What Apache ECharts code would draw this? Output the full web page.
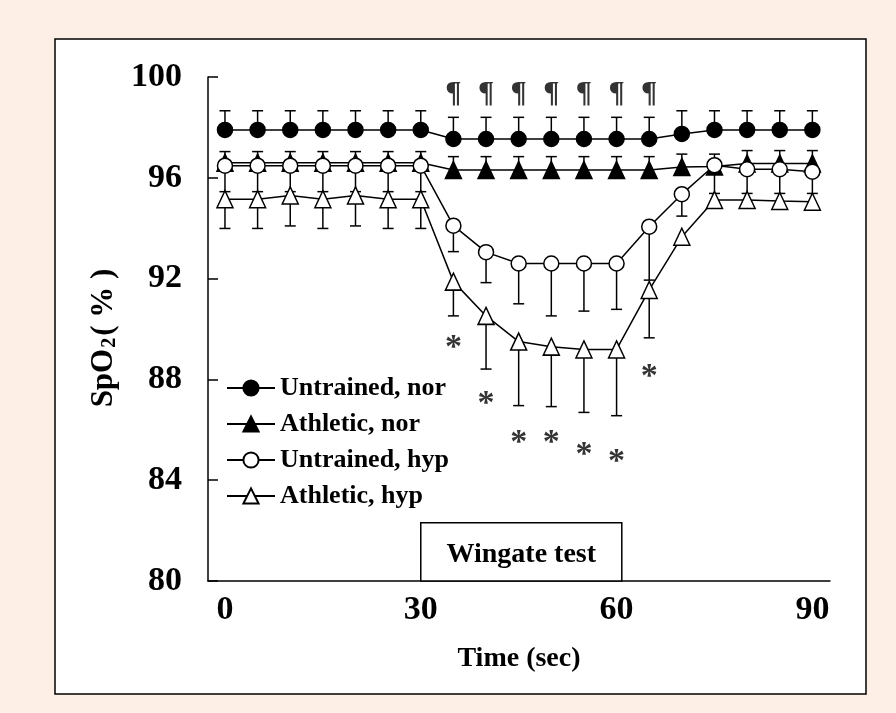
<!DOCTYPE html>
<html>
<head>
<meta charset="utf-8">
<script src="https://cdn.jsdelivr.net/npm/echarts@6/dist/echarts.min.js"></script>
<style>
html,body{margin:0;padding:0;background:#FDEFE5;}
#chart{width:896px;height:713px;}
</style>
</head>
<body>
<div id="chart"></div>
<script>
// ---- data ----
const times = [0,5,10,15,20,25,30,35,40,45,50,55,60,65,70,75,80,85,90];
const xTickLabels = [0,30,60,90];
const seriesNames = ['Untrained, nor','Athletic, nor','Untrained, hyp','Athletic, hyp'];

const untrainedNor = [97.9,97.9,97.9,97.9,97.9,97.9,97.9,97.54,97.54,97.54,97.54,97.54,97.54,97.54,97.74,97.9,97.9,97.9,97.9];
const untrainedNorSD = [0.76,0.76,0.76,0.76,0.76,0.76,0.76,0.86,0.86,0.86,0.86,0.86,0.86,0.86,0.92,0.76,0.76,0.76,0.76];

const athleticNor = [96.6,96.6,96.6,96.6,96.6,96.6,96.6,96.31,96.31,96.31,96.31,96.31,96.31,96.31,96.43,96.45,96.57,96.57,96.57];
const athleticNorSD = [0.44,0.44,0.44,0.44,0.44,0.44,0.44,0.53,0.53,0.53,0.53,0.53,0.53,0.53,0.51,0.49,0.51,0.51,0.51];

const untrainedHyp = [96.48,96.48,96.48,96.48,96.48,96.48,96.48,94.10,93.05,92.6,92.6,92.6,92.6,94.06,95.35,96.5,96.34,96.34,96.24];
const untrainedHypSD = [1.03,1.03,1.03,1.03,1.03,1.03,1.03,1.03,1.21,1.6,2.08,1.89,1.82,2.12,0.87,1.12,0.96,0.96,0.86];

const athleticHyp = [95.15,95.15,95.3,95.15,95.3,95.15,95.15,91.88,90.52,89.5,89.3,89.19,89.19,91.55,93.66,95.12,95.12,95.08,95.05];
const athleticHypSD = [1.16,1.16,1.21,1.16,1.21,1.16,1.16,1.36,2.11,2.54,2.38,2.5,2.63,1.9,0.3,0.3,0.3,0.3,0.3];

// annotations (data units)
const paraTimes = [35,40,45,50,55,60,65];
const paraLevel = 99.44;
const starTimes = [35,40,45,50,55,60,65];
const starLevels = [89.5,87.31,85.73,85.73,85.27,85.0,88.37];
const wingateStart = 30, wingateEnd = 60.8, wingateTop = 82.31;

// ---- helpers ----
const FONT = '"Liberation Serif","Times New Roman",serif';
function pairs(vals){ return times.map((t,i)=>[t, vals[i]]); }
function bars(vals, sd, dir){ return times.map((t,i)=>[t, vals[i], vals[i] + dir*sd[i]]); }

function errRender(params, api){
  const x = api.value(0), y = api.value(1), y2 = api.value(2);
  const p1 = api.coord([x,y]), p2 = api.coord([x,y2]);
  const st = {stroke:'#000', lineWidth:1.5};
  return {type:'group', children:[
    {type:'line', shape:{x1:p1[0],y1:p1[1],x2:p2[0],y2:p2[1]}, style:st},
    {type:'line', shape:{x1:p2[0]-5.5,y1:p2[1],x2:p2[0]+5.5,y2:p2[1]}, style:st}
  ]};
}
function errSeries(vals, sd, dir){
  return {type:'custom', renderItem: errRender, data: bars(vals, sd, dir), z:1, silent:true, encode:{x:0,y:[1,2]}};
}
function lineSeries(name, vals, symbol, size, fill, z){
  return {
    name, type:'line', data: pairs(vals), symbol, symbolSize:size, showSymbol:true,
    lineStyle:{color:'#000', width:1.5},
    itemStyle:{color:fill, borderColor:'#000', borderWidth:1.5},
    z, animation:false
  };
}

const chart = echarts.init(document.getElementById('chart'), null, {renderer:'canvas'});
const option = {
  backgroundColor:'#FDEFE5',
  animation:false,
  graphic:[
    {type:'rect', shape:{x:55,y:39,width:811,height:655}, style:{fill:'#fff', stroke:'#000', lineWidth:1.5}, z:-10},
    {type:'text', x:104, y:338, rotation:Math.PI/2,
     style:{text:'SpO{s|2}( % )', fill:'#000', font:'bold 31px '+FONT, align:'center', verticalAlign:'middle',
       rich:{s:{fontSize:20, fontWeight:'bold', fontFamily:FONT, verticalAlign:'bottom', padding:[0,2,0,1]}}}, z:10}
  ],
  grid:{left:208, right:66, top:77, bottom:132, containLabel:false},
  legend:{
    data: seriesNames, orient:'vertical', left:226, top:375,
    itemWidth:48, itemHeight:19, itemGap:10,
    textStyle:{fontFamily:FONT, fontWeight:'bold', fontSize:26, color:'#000'},
    padding:0
  },
  xAxis:{
    type:'value', min:-2.6, max:92.7,
    name:'Time (sec)', nameLocation:'middle', nameGap:64,
    nameTextStyle:{fontFamily:FONT, fontWeight:'bold', fontSize:28, color:'#000'},
    axisLine:{show:true, lineStyle:{color:'#000', width:1.5}},
    axisTick:{show:false},
    splitLine:{show:false},
    axisLabel:{customValues:xTickLabels, fontFamily:FONT, fontWeight:'bold', fontSize:34, color:'#000', margin:12}
  },
  yAxis:{
    type:'value', min:80, max:100, interval:4,
    axisLine:{show:true, onZero:false, lineStyle:{color:'#000', width:1.5}},
    axisTick:{show:true, inside:true, length:10, lineStyle:{color:'#000', width:1.5}},
    splitLine:{show:false},
    axisLabel:{fontFamily:FONT, fontWeight:'bold', fontSize:34, color:'#000', margin:26}
  },
  series:[
    errSeries(untrainedNor, untrainedNorSD, 1),
    errSeries(athleticNor, athleticNorSD, 1),
    errSeries(untrainedHyp, untrainedHypSD, -1),
    errSeries(athleticHyp, athleticHypSD, -1),
    lineSeries(seriesNames[0], untrainedNor, 'circle', 15, '#000', 3),
    lineSeries(seriesNames[1], athleticNor, 'triangle', [16,17], '#000', 3),
    lineSeries(seriesNames[3], athleticHyp, 'triangle', [16,17], '#fff', 4),
    lineSeries(seriesNames[2], untrainedHyp, 'circle', 15, '#fff', 5),
    {
      type:'scatter', data: paraTimes.map(t=>[t, paraLevel]), symbol:'circle', symbolSize:1,
      itemStyle:{color:'rgba(0,0,0,0)'}, silent:true, z:6,
      label:{show:true, position:'inside', formatter:'¶', fontFamily:FONT, fontWeight:'bold', fontSize:30, color:'#000', offset:[0,2]},
      markArea:{
        silent:true,
        itemStyle:{color:'#fff', borderColor:'#000', borderWidth:1.5},
        label:{show:true, position:'inside', formatter:'Wingate test', fontFamily:FONT, fontWeight:'bold', fontSize:28, color:'#000', offset:[0,3]},
        data:[[{xAxis:wingateStart, yAxis:80},{xAxis:wingateEnd, yAxis:wingateTop}]]
      }
    },
    {
      type:'scatter', data: starTimes.map((t,i)=>[t, starLevels[i]]), symbol:'circle', symbolSize:1,
      itemStyle:{color:'rgba(0,0,0,0)'}, silent:true, z:6,
      label:{show:true, position:'inside', formatter:'*', fontFamily:FONT, fontWeight:'bold', fontSize:34, color:'#000', offset:[0,7]}
    }
  ]
};
chart.setOption(option);
</script>
</body>
</html>
